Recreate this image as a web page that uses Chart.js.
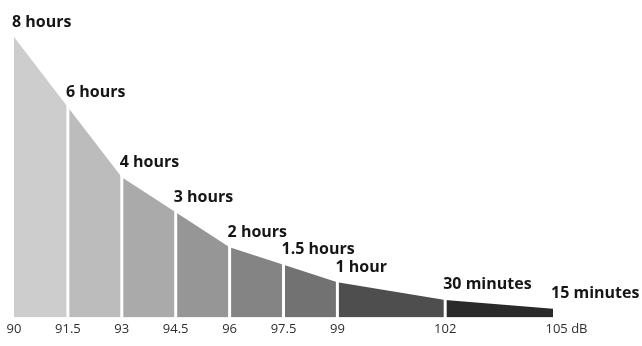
<!DOCTYPE html>
<html lang="en">
<head>
   <meta charset="UTF-8">
   <title>noise exposure</title>
   <script src="https://cdn.jsdelivr.net/npm/chart.js"></script>
   <style>
       html, body { margin: 0; padding: 0; background: #fff; }
       #wrap { width: 642px; height: 346px; }
   </style>
</head>
<body>
   <div id="wrap"><canvas id="noiseChart"></canvas></div>

   <script>
       // sound level (dB) and permitted exposure (hours)
       const levels = [90, 91.5, 93, 94.5, 96, 97.5, 99, 102, 105];
       const hours = [8, 6, 4, 3, 2, 1.5, 1, 0.5, 0.25];
       const pointLabels = ['8 hours', '6 hours', '4 hours', '3 hours', '2 hours', '1.5 hours', '1 hour', '30 minutes', '15 minutes'];
       const tickLabels = ['90', '91.5', '93', '94.5', '96', '97.5', '99', '102', '105 dB'];
       const segColors = ['#cdcdcd', '#bcbcbc', '#aaaaaa', '#969696', '#848484', '#727272', '#4e4e4e', '#2a2a2a'];

       // white dividers between the shaded bands
       const dividers = {
           id: 'dividers',
           afterDatasetsDraw(chart) {
               const pts = chart.getDatasetMeta(0).data;
               const base = chart.scales.y.getPixelForValue(0);
               const ctx = chart.ctx;
               ctx.save();
               ctx.strokeStyle = '#ffffff';
               ctx.lineWidth = 3;
               for (let i = 1; i < pts.length - 1; i++) {
                   ctx.beginPath();
                   ctx.moveTo(pts[i].x, base + 1);
                   ctx.lineTo(pts[i].x, pts[i].y - 2);
                   ctx.stroke();
               }
               ctx.restore();
           }
       };

       // duration text above each point
       const durationLabels = {
           id: 'durationLabels',
           afterDraw(chart) {
               const pts = chart.getDatasetMeta(0).data;
               const ctx = chart.ctx;
               ctx.save();
               ctx.fillStyle = '#161616';
               ctx.font = 'bold 16px "Open Sans"';
               ctx.textAlign = 'left';
               ctx.textBaseline = 'middle';
               pts.forEach((p, i) => {
                   ctx.fillText(pointLabels[i], p.x - 2, p.y - 15);
               });
               ctx.restore();
           }
       };

       new Chart(document.getElementById('noiseChart'), {
           type: 'line',
           data: {
               labels: levels,
               datasets: [{
                   data: levels.map((x, i) => ({ x: x, y: hours[i] })),
                   borderWidth: 0,
                   pointRadius: 0,
                   tension: 0,
                   fill: 'origin',
                   backgroundColor: segColors[0],
                   segment: {
                       backgroundColor: ctx => segColors[ctx.p0DataIndex]
                   }
               }]
           },
           options: {
               responsive: true,
               maintainAspectRatio: false,
               animation: false,
               layout: { padding: { left: 14, right: 89, top: 2, bottom: 5 } },
               plugins: {
                   legend: { display: false },
                   tooltip: { enabled: false }
               },
               scales: {
                   x: {
                       type: 'linear',
                       min: 90,
                       max: 105,
                       afterBuildTicks: axis => {
                           axis.ticks = levels.map(v => ({ value: v }));
                       },
                       grid: { display: false, drawTicks: false },
                       border: { display: false },
                       ticks: {
                           padding: 4,
                           maxRotation: 0,
                           autoSkip: false,
                           color: '#2e2e2e',
                           font: { family: 'Open Sans', size: 13 },
                           // last label sits right of its tick, so pad it on the left
                           callback: (value, index) => index === tickLabels.length - 1
                               ? '        ' + tickLabels[index]
                               : tickLabels[index]
                       }
                   },
                   y: {
                       display: false,
                       min: 0,
                       max: 9
                   }
               }
           },
           plugins: [dividers, durationLabels]
       });
   </script>
</body>
</html>
